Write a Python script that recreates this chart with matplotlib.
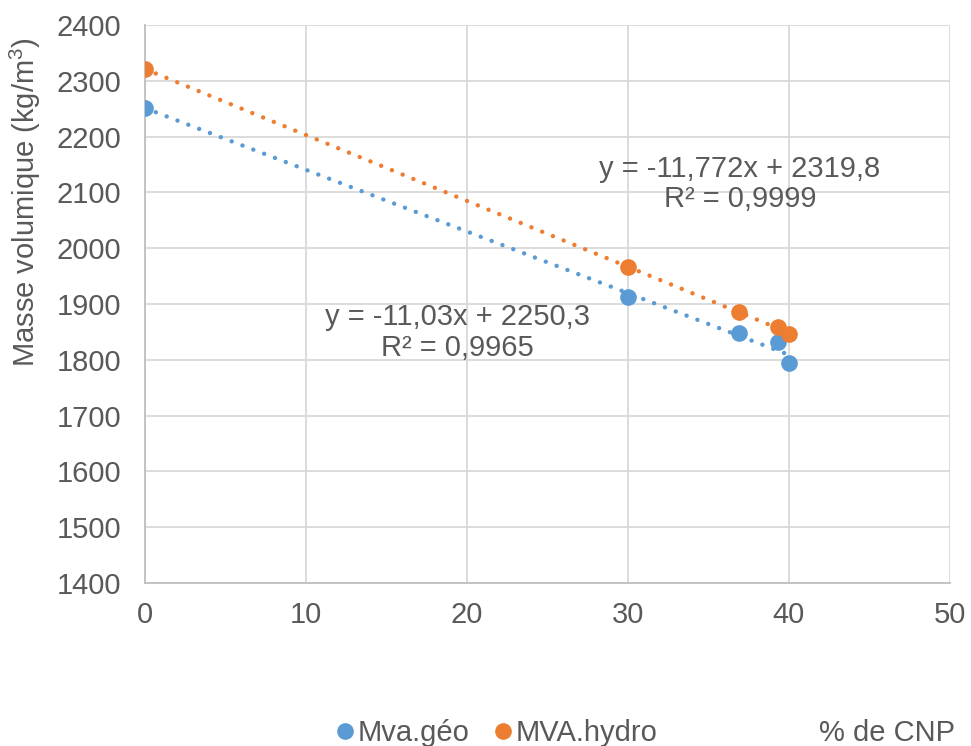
import numpy as np
import matplotlib
matplotlib.use("Agg")
import matplotlib.pyplot as plt
from matplotlib.lines import Line2D

plt.rcParams['font.family'] = ['Liberation Sans', 'DejaVu Sans']
plt.rcParams['mathtext.fontset'] = 'custom'
plt.rcParams['mathtext.rm'] = 'Liberation Sans'
plt.rcParams['mathtext.it'] = 'Liberation Sans'

# Data
x_cnp = [0, 30, 36.9, 39.3, 40]
mva_geo = [2252, 1913, 1848, 1831, 1795]
mva_hydro = [2321, 1966, 1886, 1859, 1846]
series_names = ["Mva.géo", "MVA.hydro"]
eq_geo = "y = -11,03x + 2250,3\nR² = 0,9965"
eq_hydro = "y = -11,772x + 2319,8\nR² = 0,9999"
x_ticks = [0, 10, 20, 30, 40, 50]
y_ticks = [1400, 1500, 1600, 1700, 1800, 1900, 2000, 2100, 2200, 2300, 2400]

blue = "#5B9BD5"
orange = "#ED7D31"
txt = "#595959"
grid = "#D9D9D9"
fs = 21

fig = plt.figure(figsize=(9.71, 7.46), dpi=100)
ax = fig.add_axes([0.1493, 0.2185, 0.8290, 0.748])

xs = np.array(x_cnp, dtype=float)
xl = np.linspace(0, 40, 100)
for ys, c in [(mva_geo, blue), (mva_hydro, orange)]:
    p = np.polyfit(xs, np.array(ys, dtype=float), 1)
    ax.plot(xl, np.polyval(p, xl), color=c, linestyle=(0, (0.01, 2.6)),
            linewidth=3.2, dash_capstyle='round', zorder=2)
    ax.plot(xs, ys, 'o', color=c, markersize=12, zorder=3, markeredgewidth=0)

ax.set_xlim(0, 50)
ax.set_ylim(1400, 2400)
ax.set_xticks(x_ticks)
ax.set_yticks(y_ticks)
ax.tick_params(axis='both', length=0, labelsize=fs, colors=txt)
ax.tick_params(axis='y', pad=17)
ax.tick_params(axis='x', pad=13)
ax.grid(True, color=grid, linewidth=1.3)
ax.set_axisbelow(True)
for s in ['top', 'right']:
    ax.spines[s].set_visible(False)
for s in ['left', 'bottom']:
    ax.spines[s].set_color("#BFBFBF")
    ax.spines[s].set_linewidth(1.3)

fig.text(25 / 971, 1 - 202 / 746, "Masse volumique (kg/m$^3$)", rotation=90,
         ha='center', va='center', fontsize=fs, color=txt)

ax.text(36.95, 2115, eq_hydro, ha='center', va='center', fontsize=fs,
        color=txt, multialignment='center', linespacing=1.1)
ax.text(19.4, 1849, eq_geo, ha='center', va='center', fontsize=fs,
        color=txt, multialignment='center', linespacing=1.1)

handles = [Line2D([], [], marker='o', linestyle='none', color=blue, markersize=12, markeredgewidth=0),
           Line2D([], [], marker='o', linestyle='none', color=orange, markersize=12, markeredgewidth=0)]
leg = fig.legend(handles, series_names, loc='center', bbox_to_anchor=(494 / 971, 1 - 733 / 746),
                 ncol=2, frameon=False, fontsize=fs, handletextpad=-0.05,
                 columnspacing=0.62, handlelength=1.0)
for t in leg.get_texts():
    t.set_color(txt)

fig.text(887 / 971, 1 - 733 / 746, "% de CNP", ha='center', va='center', fontsize=fs, color=txt)

fig.savefig("out.png", dpi=100)
